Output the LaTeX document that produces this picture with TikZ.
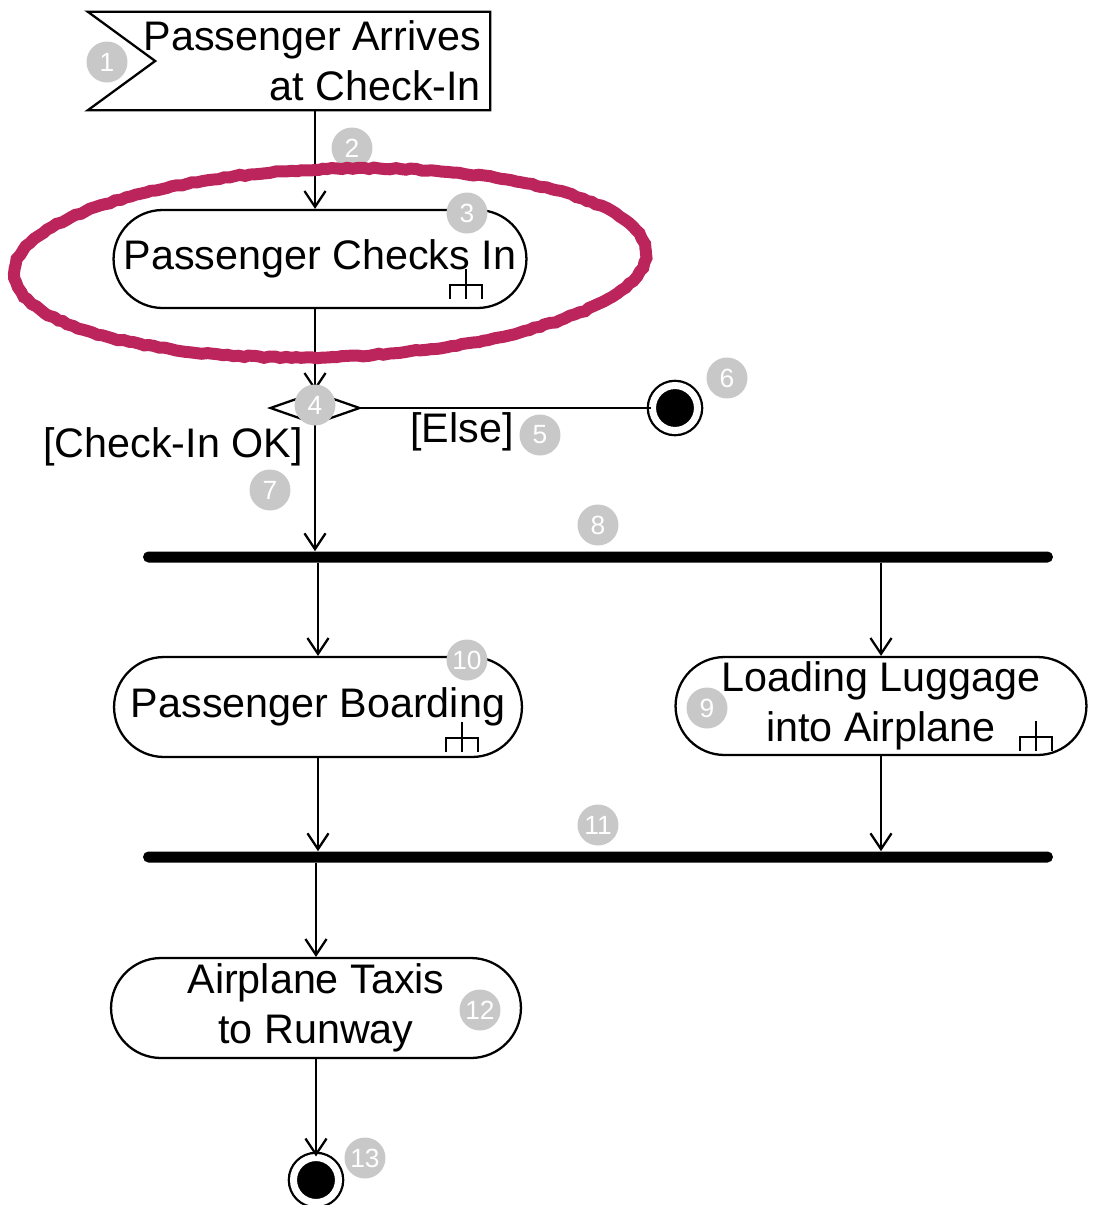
\documentclass[tikz,border=0pt]{standalone}
\usepackage{fontspec}
\setmainfont{Liberation Sans}
\usetikzlibrary{arrows.meta,shapes.misc,shapes.geometric,decorations.pathmorphing}

\definecolor{badgegray}{RGB}{200,200,200}
\definecolor{marker}{RGB}{188,36,92}

\newcommand{\umlsize}{\fontsize{23.5}{28.5}\selectfont}

\tikzset{
  activity/.style={rounded rectangle, draw, line width=1.3pt, fill=white,
    font=\umlsize, align=center, inner sep=2pt},
  flow/.style={line width=1.3pt, -{Straight Barb[length=9pt,width=12pt]}},
  syncbar/.style={fill=black, rounded corners=3pt, minimum width=18.2cm,
    minimum height=0.22cm, inner sep=0pt},
  final/.style={circle, draw, fill=black, line width=1.3pt, double=white,
    double distance=4pt, minimum size=0.9cm, inner sep=0pt},
  guard/.style={font=\umlsize, inner sep=0pt},
  badge/.style={circle, fill=badgegray, text=white, minimum size=0.82cm,
    inner sep=0pt, font=\fontsize{15}{15}\selectfont},
  rake/.pic={\draw[line width=1pt] (0,-16) -- (0,14) (-16,14) -- (-16,0) -- (16,0) -- (16,14);}
}

\begin{document}
\begin{tikzpicture}[x=0.02cm,y=-0.02cm]
  \useasboundingbox (0,0) rectangle (1104,1205);

  % accept event
  \node[minimum width=8.04cm, minimum height=1.96cm, inner sep=0pt] (arrive) at (289,61) {};
  \draw[line width=1.3pt] (arrive.north west) -- (arrive.north east) -- (arrive.south east)
    -- (arrive.south west) -- ([xshift=1.35cm]arrive.west) -- cycle;
  \node[font=\umlsize, align=right, anchor=east, inner sep=0pt] (arrivetext)
    at ([xshift=-0.18cm]arrive.east) {Passenger Arrives\\at Check-In};

  % actions
  \node[activity, minimum width=8.4cm, minimum height=1.96cm] (check) at (320,259) {Passenger Checks In};
  \node[diamond, draw, line width=1.3pt, fill=white, minimum width=1.8cm,
    minimum height=0.64cm, inner sep=0pt] (dec) at (315,408) {};
  \node[final] (stop) at (675,408) {};
  \node[syncbar] (fork) at (598,557) {};
  \node[activity, minimum width=8.3cm, minimum height=2cm] (board) at (318,707) {Passenger Boarding};
  \node[activity, minimum width=8.36cm, minimum height=1.96cm] (load) at (881,706)
    {Loading Luggage\\into Airplane};
  \node[syncbar] (join) at (598,857) {};
  \node[activity, minimum width=8.34cm, minimum height=2cm] (taxi) at (316,1008)
    {Airplane Taxis\\to Runway};
  \node[final] (done) at (316,1180) {};

  % guards
  \node[guard, anchor=east] (okguard) at (303,447) {[Check-In OK]};
  \node[guard] (elseguard) at (462,432) {[Else]};

  % flows
  \draw[flow] (arrive.south -| dec.north) -- (dec.north |- check.north);
  \draw[flow] (check.south -| dec.north) -- (dec.north);
  \draw[line width=1.3pt] (dec.east) -- (stop.west);
  \draw[flow] (dec.south) -- (dec.south |- fork.north);
  \draw[flow] (board.north |- fork.south) -- (board.north);
  \draw[flow] (load.north |- fork.south) -- (load.north);
  \draw[flow] (board.south) -- (board.south |- join.north);
  \draw[flow] (load.south) -- (load.south |- join.north);
  \draw[flow] (taxi.north |- join.south) -- (taxi.north);
  \draw[flow] (taxi.south) -- (done.north);

  % call behavior marks
  \pic at (466,285) {rake};
  \pic at (462,738) {rake};
  \pic at (1036,737) {rake};

  % step numbers
  \foreach \n/\x/\y in {1/107/62, 2/352/148, 3/467/213, 4/315/405, 5/540/435,
      6/727/378, 7/270/490, 8/598/525, 9/707/708, 10/467/660, 11/598/825,
      12/480/1010, 13/365/1158}
    \node[badge] (badge\n) at (\x,\y) {\n};

  % marker ring
  \draw[marker, line width=0.24cm, decorate,
    decoration={random steps, segment length=3pt, amplitude=0.5pt},
    rotate around={2:(330,263)}] (330,263) ellipse [x radius=316, y radius=94];
\end{tikzpicture}
\end{document}
